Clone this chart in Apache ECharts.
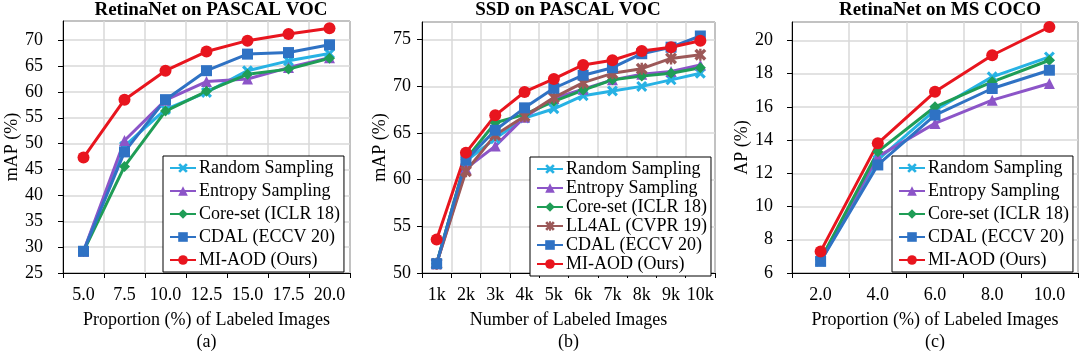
<!DOCTYPE html>
<html lang="en">
<head>
    <meta charset="UTF-8">
    <style>
    html,
    body {
        height: 100%;
        margin: 0;
        background: #fff;
    }
  </style>
</head>
<body>
<div id="chart" style="width:1080px;height:351px;"></div>
<script src="https://cdn.jsdelivr.net/npm/echarts@6/dist/echarts.min.js"></script>
<script>
    // (a) RetinaNet on PASCAL VOC
    var xA = ['5.0', '7.5', '10.0', '12.5', '15.0', '17.5', '20.0'];
    var randomA  = [29.2, 49.5, 56.6, 59.9, 64.1, 66.0, 67.4];
    var entropyA = [29.2, 50.6, 58.4, 62.0, 62.5, 64.7, 66.6];
    var coresetA = [29.2, 45.6, 56.3, 60.1, 63.4, 64.4, 66.5];
    var cdalA    = [29.2, 48.4, 58.5, 64.1, 67.3, 67.6, 69.1];
    var miaodA   = [47.3, 58.5, 64.1, 67.8, 69.9, 71.2, 72.3];

    // (b) SSD on PASCAL VOC
    var xB = ['1k', '2k', '3k', '4k', '5k', '6k', '7k', '8k', '9k', '10k'];
    var randomB  = [51.0, 62.0, 64.4, 66.6, 67.6, 69.0, 69.5, 70.0, 70.7, 71.4];
    var entropyB = [51.0, 61.2, 63.6, 66.7, 68.7, 69.7, 70.7, 71.3, 71.6, 72.3];
    var coresetB = [51.0, 62.2, 66.1, 67.0, 68.4, 69.6, 70.7, 71.1, 71.4, 72.0];
    var ll4alB   = [51.0, 60.9, 64.8, 66.8, 68.8, 70.4, 71.4, 71.9, 73.0, 73.4];
    var cdalB    = [51.0, 62.1, 65.3, 67.7, 69.8, 71.2, 72.0, 73.5, 74.2, 75.4];
    var miaodB   = [53.6, 62.9, 66.9, 69.4, 70.8, 72.3, 72.8, 73.8, 74.2, 74.9];

    // (c) RetinaNet on MS COCO
    var xC = ['2.0', '4.0', '6.0', '8.0', '10.0'];
    var randomC  = [6.7, 12.8, 15.8, 17.8, 19.0];
    var entropyC = [6.8, 13.0, 15.0, 16.4, 17.4];
    var coresetC = [6.8, 13.3, 16.0, 17.5, 18.8];
    var cdalC    = [6.7, 12.5, 15.5, 17.1, 18.2];
    var miaodC   = [7.3, 13.8, 16.9, 19.1, 20.8];

    var FONT = '"Liberation Serif", serif';
    var CROSS = 'path://M2,0 L5,3 L8,0 L10,2 L7,5 L10,8 L8,10 L5,7 L2,10 L0,8 L3,5 L0,2 Z';
    var STAR = 'path://M2,0 L5,3 L8,0 L10,2 L7,5 L10,8 L8,10 L5,7 L2,10 L0,8 L3,5 L0,2 Z M4,0 L6,0 L6,10 L4,10 Z';

    var styles = {
        'Random Sampling':    {color: '#27b2e4', symbol: CROSS, size: 11},
        'Entropy Sampling':   {color: '#8c55c8', symbol: 'triangle', size: 11},
        'Core-set (ICLR 18)': {color: '#1f9d56', symbol: 'diamond', size: 11},
        'LL4AL (CVPR 19)':    {color: '#9c5858', symbol: STAR, size: 12},
        'CDAL (ECCV 20)':     {color: '#2f72c4', symbol: 'rect', size: 11},
        'MI-AOD (Ours)':      {color: '#e8151e', symbol: 'circle', size: 12}
    };

    function line(name, data, idx) {
        var s = styles[name];
        return {
            name: name,
            type: 'line',
            xAxisIndex: idx,
            yAxisIndex: idx,
            data: data,
            symbol: s.symbol,
            symbolSize: s.size,
            color: s.color,
            lineStyle: {width: 3},
            itemStyle: {color: s.color},
            animation: false
        };
    }

    function xAxis(idx, data, name) {
        return {
            type: 'category', gridIndex: idx, data: data, boundaryGap: true,
            name: name, nameLocation: 'middle', nameGap: 36,
            nameTextStyle: {fontFamily: FONT, fontSize: 18, color: '#000', lineHeight: 22},
            axisLine: {lineStyle: {color: '#000', width: 1}},
            axisTick: {show: true, length: 5, lineStyle: {color: '#000'}},
            axisLabel: {fontFamily: FONT, fontSize: 18, color: '#000', margin: 13, interval: 0},
            splitLine: {show: true, interval: 0, lineStyle: {color: '#d9d9d9', width: 1.5}}
        };
    }

    function yAxis(idx, min, max, interval, name, gap, margin) {
        return {
            type: 'value', gridIndex: idx, min: min, max: max, interval: interval,
            name: name, nameLocation: 'middle', nameGap: gap, nameRotate: 90,
            nameTextStyle: {fontFamily: FONT, fontSize: 18, color: '#000'},
            axisLine: {show: true, lineStyle: {color: '#000', width: 1}},
            axisTick: {show: true, length: 5, lineStyle: {color: '#000'}},
            axisLabel: {fontFamily: FONT, fontSize: 18, color: '#000', margin: margin, showMaxLabel: false},
            splitLine: {show: true, lineStyle: {color: '#d9d9d9', width: 1.5}}
        };
    }

    function legend(left, top, names, gap) {
        return {
            orient: 'vertical', left: left, top: top, data: names,
            backgroundColor: '#fff', borderColor: '#000', borderWidth: 1,
            padding: [3, 4, 3, 6], itemGap: gap, itemWidth: 26, itemHeight: 12,
            textStyle: {fontFamily: FONT, fontSize: 18, color: '#000', padding: [0, 0, 0, -2]},
            selectedMode: false
        };
    }

    function grid(left, top, width, height) {
        return {
            left: left, top: top, width: width, height: height,
            show: true, borderColor: '#000', borderWidth: 1,
            containLabel: false, outerBoundsMode: 'none'
        };
    }

    var names5 = ['Random Sampling', 'Entropy Sampling', 'Core-set (ICLR 18)', 'CDAL (ECCV 20)', 'MI-AOD (Ours)'];
    var names6 = ['Random Sampling', 'Entropy Sampling', 'Core-set (ICLR 18)', 'LL4AL (CVPR 19)', 'CDAL (ECCV 20)', 'MI-AOD (Ours)'];

    var TITLE_FONT = 'bold 19px "Liberation Serif", serif';

    var myChart = echarts.init(document.getElementById('chart'));
    myChart.setOption({
        animation: false,
        textStyle: {fontFamily: FONT},
        grid: [
            grid(63, 21, 287, 252),
            grid(422, 22, 293, 251),
            grid(792, 22, 286, 251)
        ],
        xAxis: [
            xAxis(0, xA, 'Proportion (%) of Labeled Images\n(a)'),
            xAxis(1, xB, 'Number of Labeled Images\n(b)'),
            xAxis(2, xC, 'Proportion (%) of Labeled Images\n(c)')
        ],
        yAxis: [
            yAxis(0, 25, 73.7, 5, 'mAP (%)', 42, 20),
            yAxis(1, 50, 76.9, 5, 'mAP (%)', 29, 11),
            yAxis(2, 6, 21.1, 2, 'AP (%)', 38, 19)
        ],
        legend: [
            legend(163, 156, names5, 5),
            legend(530, 157, names6, 1),
            legend(892, 156, names5, 5)
        ],
        graphic: [
            {type: 'text', x: 211, y: 10, style: {text: 'RetinaNet on PASCAL VOC', align: 'center', verticalAlign: 'middle', font: TITLE_FONT, fill: '#000'}},
            {type: 'text', x: 568, y: 10, style: {text: 'SSD on PASCAL VOC', align: 'center', verticalAlign: 'middle', font: TITLE_FONT, fill: '#000'}},
            {type: 'text', x: 940, y: 10, style: {text: 'RetinaNet on MS COCO', align: 'center', verticalAlign: 'middle', font: TITLE_FONT, fill: '#000'}}
        ],
        series: [
            line('Random Sampling', randomA, 0),
            line('Entropy Sampling', entropyA, 0),
            line('Core-set (ICLR 18)', coresetA, 0),
            line('CDAL (ECCV 20)', cdalA, 0),
            line('MI-AOD (Ours)', miaodA, 0),
            line('Random Sampling', randomB, 1),
            line('Entropy Sampling', entropyB, 1),
            line('Core-set (ICLR 18)', coresetB, 1),
            line('LL4AL (CVPR 19)', ll4alB, 1),
            line('CDAL (ECCV 20)', cdalB, 1),
            line('MI-AOD (Ours)', miaodB, 1),
            line('Random Sampling', randomC, 2),
            line('Entropy Sampling', entropyC, 2),
            line('Core-set (ICLR 18)', coresetC, 2),
            line('CDAL (ECCV 20)', cdalC, 2),
            line('MI-AOD (Ours)', miaodC, 2)
        ]
    });
</script>
</body>
</html>
